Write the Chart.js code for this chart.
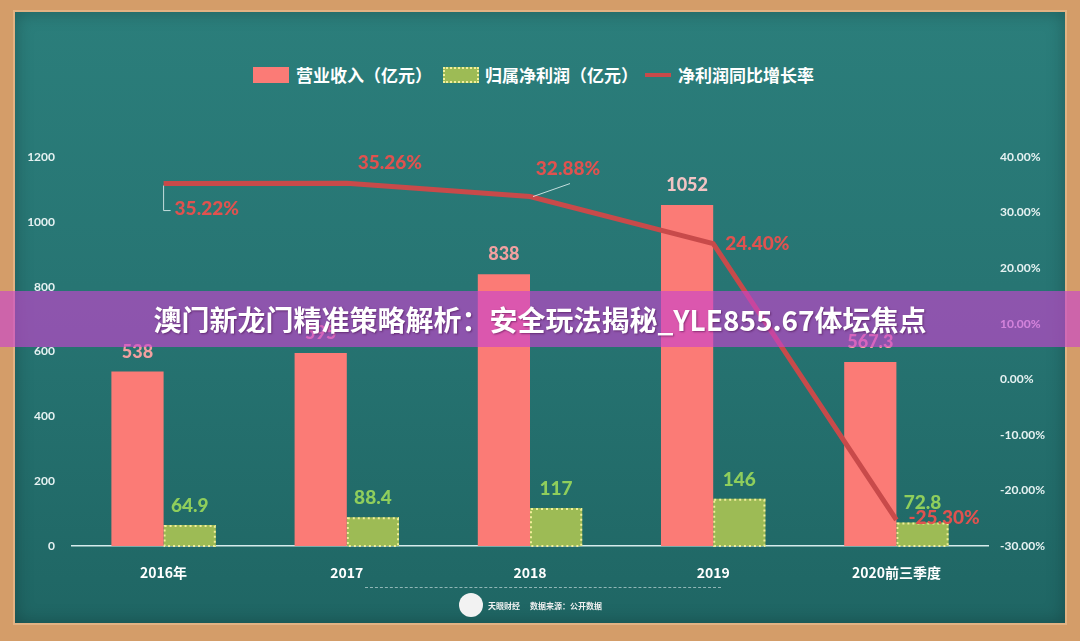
<!DOCTYPE html>
<html>
<head>
<meta charset="utf-8">
<script src="https://cdn.jsdelivr.net/npm/chart.js@4"></script>
<style>
  html, body { margin: 0; padding: 0; }
  body { width: 1080px; height: 641px; overflow: hidden; position: relative; background: #d49d69; font-family: "Noto Sans CJK SC", Lato, sans-serif; }
  .frame-in { position: absolute; left: 13px; top: 10px; right: 13px; bottom: 16px; background: #e2b283; }
  .board { position: absolute; left: 15px; top: 12px; right: 15px; bottom: 18px;
    background: linear-gradient(180deg, #2b7e7b 0%, #277573 45%, #1f6664 100%);
    box-shadow: inset 0 0 18px rgba(0,0,0,0.25); }
  #wrap { position: absolute; left: 0; top: 0; width: 1080px; height: 641px; }
  .legend { position: absolute; top: 63px; left: 0; width: 1080px; height: 24px; color: #fff; font-weight: bold; font-size: 17px; }
  .legend span { position: absolute; top: 0; line-height: 24px; white-space: nowrap; }
  .legend i { position: absolute; display: block; }
  .banner { position: absolute; left: 0; top: 291px; width: 1080px; height: 56px; background: rgba(200,68,206,0.64);
    color: #fff; font-weight: bold; font-size: 28px; line-height: 56px; text-align: center; text-shadow: 1px 1px 2px rgba(60,0,60,0.5); }
  .foot { position: absolute; top: 587px; left: 365px; width: 356px; border-top: 1px dashed rgba(220,235,235,0.6); }
  .logo { position: absolute; left: 459px; top: 593px; width: 24px; height: 24px; border-radius: 50%; background: #f2f2f2; }
  .src { position: absolute; top: 600px; font-size: 8px; font-weight: bold; color: #f0f0f0; white-space: nowrap; }
</style>
</head>
<body>
<div class="frame-in"></div>
<div class="board"></div>
<div class="legend">
  <i style="left:253px;top:4px;width:36px;height:16px;background:#fb7b76"></i>
  <span style="left:296px">营业收入（亿元）</span>
  <i style="left:443px;top:4px;width:32px;height:12px;background:#9dbb55;border:2px dotted #f2ee9a"></i>
  <span style="left:485px">归属净利润（亿元）</span>
  <i style="left:645px;top:10px;width:26px;height:4px;background:#c84a4a"></i>
  <span style="left:678px">净利润同比增长率</span>
</div>
<div id="wrap"><canvas id="myChart" width="1080" height="641"></canvas></div>
<div class="foot"></div>
<div class="logo"></div>
<div class="src" style="left:488px">天眼财经</div>
<div class="src" style="left:530px">数据来源：公开数据</div>
<div class="banner">澳门新龙门精准策略解析：安全玩法揭秘_YLE855.67体坛焦点</div>

<script>
// datos
const categorias = ['2016年', '2017', '2018', '2019', '2020前三季度']
const ingresos = [538, 595, 838, 1052, 567.3]
const utilidad = [64.9, 88.4, 117, 146, 72.8]
const crecimiento = [35.22, 35.26, 32.88, 24.40, -25.30]
const ticksIzq = [0, 200, 400, 600, 800, 1000, 1200]
const ticksDer = [-30, -20, -10, 0, 10, 20, 30, 40]

// donde va cada etiqueta del % (dx, dy, align, linea guia)
const posEtiquetas = [
    { dx: 11, dy: 25, align: 'left', guia: [[0, 2], [0, 27], [7, 27]] },
    { dx: 43, dy: -20, align: 'center' },
    { dx: 38, dy: -28, align: 'center', guia: [[3, 0], [40, -13]] },
    { dx: 12, dy: 0, align: 'left' },
    { dx: 12, dy: -2, align: 'left' }
]

const fuenteNum = '"Lato", "Noto Sans CJK SC", sans-serif'

// borde punteado de las barras verdes
const bordePunteado = {
    id: 'bordePunteado',
    afterDatasetDraw(chart, args) {
        if (args.index !== 1) return
        const ctx = chart.ctx
        ctx.save()
        ctx.strokeStyle = '#f2ee9a'
        ctx.lineWidth = 2
        ctx.setLineDash([2, 3])
        args.meta.data.forEach(bar => {
            const w = bar.width
            ctx.strokeRect(bar.x - w / 2 + 1, bar.y + 1, w - 2, bar.base - bar.y - 1)
        })
        ctx.restore()
    }
}

// etiquetas de valores
const etiquetas = {
    id: 'etiquetas',
    afterDatasetsDraw(chart) {
        const ctx = chart.ctx
        ctx.save()
        ctx.font = '900 18px ' + fuenteNum
        ctx.textBaseline = 'alphabetic'
        ctx.textAlign = 'center'
        chart.getDatasetMeta(0).data.forEach((bar, i) => {
            ctx.fillStyle = i === 3 ? '#f3c4c4' : '#f2a0a0'
            ctx.fillText(String(ingresos[i]), bar.x, bar.y - 14)
        })
        ctx.font = '900 19px ' + fuenteNum
        chart.getDatasetMeta(1).data.forEach((bar, i) => {
            ctx.fillStyle = '#8fce5c'
            ctx.fillText(String(utilidad[i]), bar.x, bar.y - 13)
        })
        ctx.textBaseline = 'middle'
        ctx.font = '900 19px ' + fuenteNum
        chart.getDatasetMeta(2).data.forEach((pt, i) => {
            const p = posEtiquetas[i]
            if (p.guia) {
                ctx.strokeStyle = 'rgba(225,240,240,0.85)'
                ctx.lineWidth = 1
                ctx.beginPath()
                p.guia.forEach((g, k) => {
                    if (k === 0) ctx.moveTo(pt.x + g[0], pt.y + g[1])
                    else ctx.lineTo(pt.x + g[0], pt.y + g[1])
                })
                ctx.stroke()
            }
            ctx.fillStyle = '#e0524f'
            ctx.textAlign = p.align
            ctx.fillText(crecimiento[i].toFixed(2) + '%', pt.x + p.dx, pt.y + p.dy)
        })
        ctx.restore()
    }
}

const ctx = document.getElementById('myChart')

new Chart(ctx, {
    type: 'bar',
    data: {
        labels: categorias,
        datasets: [{
            label: '营业收入（亿元）',
            data: ingresos,
            backgroundColor: '#fb7b76',
            borderWidth: 0,
            yAxisID: 'y',
            order: 2
        }, {
            label: '归属净利润（亿元）',
            data: utilidad,
            backgroundColor: '#9dbb55',
            borderWidth: 0,
            yAxisID: 'y',
            order: 3
        }, {
            type: 'line',
            label: '净利润同比增长率',
            data: crecimiento,
            borderColor: '#c84a4a',
            borderWidth: 5,
            pointRadius: 0,
            tension: 0,
            yAxisID: 'y1',
            order: 1
        }]
    },
    options: {
        responsive: false,
        animation: false,
        devicePixelRatio: 1,
        layout: { padding: { top: 157, left: 0, right: 0, bottom: 0 } },
        datasets: { bar: { categoryPercentage: 0.57, barPercentage: 1.0 } },
        plugins: { legend: { display: false }, tooltip: { enabled: false } },
        scales: {
            x: {
                grid: { display: false },
                border: { color: '#d6ecec', width: 1.5 },
                ticks: { color: '#ffffff', padding: 10, font: { family: '"Noto Sans CJK SC", Lato, sans-serif', size: 14, weight: 'bold' } },
                afterFit(scale) { scale.height = 95 }
            },
            y: {
                min: 0, max: 1200,
                afterBuildTicks(scale) { scale.ticks = ticksIzq.map(v => ({ value: v })) },
                grid: { display: false },
                border: { display: false },
                ticks: { color: '#e6f2f2', padding: 9, font: { family: fuenteNum, size: 12, weight: 'bold' },
                    callback: v => String(v) },
                afterFit(scale) { scale.width = 72 }
            },
            y1: {
                position: 'right',
                min: -30, max: 40,
                afterBuildTicks(scale) { scale.ticks = ticksDer.map(v => ({ value: v })) },
                grid: { display: false },
                border: { display: false },
                ticks: {
                    color: '#e6f2f2', padding: 4, font: { family: fuenteNum, size: 12, weight: 'bold' },
                    callback: v => v.toFixed(2) + '%'
                },
                afterFit(scale) { scale.width = 92 }
            }
        }
    },
    plugins: [bordePunteado, etiquetas]
})
</script>
</body>
</html>
